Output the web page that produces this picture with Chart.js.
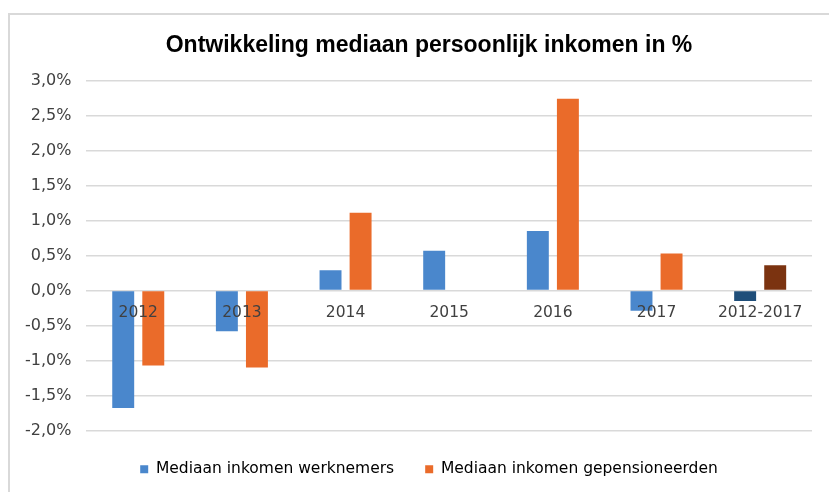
<!DOCTYPE html>
<html>
<head>
<meta charset="utf-8">
<script src="https://cdn.jsdelivr.net/npm/chart.js@4.4.1/dist/chart.umd.min.js"></script>
<style>
  html, body { margin: 0; padding: 0; background: #fff; overflow: hidden; }
  #frame {
    position: absolute; left: 8px; top: 13px;
    width: 840px; height: 500px;
    border-left: 2px solid #d9d9d9; border-top: 2px solid #d9d9d9;
  }
  #wrap { position: absolute; left: 0; top: 0; width: 838px; height: 472px; }
</style>
</head>
<body>
<div id="frame"><div id="wrap"><canvas id="BarChart"></canvas></div></div>
<script>
const categories = ['2012', '2013', '2014', '2015', '2016', '2017', '2012-2017'];
const werknemers = [-1.68, -0.58, 0.29, 0.57, 0.85, -0.29, -0.15];
const gepensioneerden = [-1.07, -1.10, 1.11, 0, 2.74, 0.53, 0.36];
const yTicks = [3.0, 2.5, 2.0, 1.5, 1.0, 0.5, 0.0, -0.5, -1.0, -1.5, -2.0];

// laatste kolom (2012-2017) heeft donkerdere kleuren
const blauw = categories.map((c, i) => i === categories.length - 1 ? '#1f4e79' : '#4a87cc');
const oranje = categories.map((c, i) => i === categories.length - 1 ? '#7b3310' : '#ea6b2a');

const data = {
  labels: categories,
  datasets: [{
    label: 'Mediaan inkomen werknemers',
    data: werknemers,
    backgroundColor: blauw,
    categoryPercentage: 0.58,
    barPercentage: 0.73
  }, {
    label: 'Mediaan inkomen gepensioneerden',
    data: gepensioneerden,
    backgroundColor: oranje,
    categoryPercentage: 0.58,
    barPercentage: 0.73
  }]
};

const config = {
  type: 'bar',
  data: data,
  options: {
    responsive: true,
    maintainAspectRatio: false,
    animation: false,
    layout: { padding: { left: 0, right: 0, top: 0, bottom: 0 } },
    plugins: {
      title: {
        display: true,
        text: 'Ontwikkeling mediaan persoonlijk inkomen in %',
        font: { family: 'Liberation Sans', size: 23, weight: 'bold' },
        color: '#000',
        padding: { top: 17, bottom: 21 }
      },
      legend: {
        position: 'bottom',
        labels: {
          font: { family: 'DejaVu Sans', size: 15.5 },
          color: '#404040',
          boxWidth: 8,
          boxHeight: 8,
          padding: 31,
          generateLabels: function(chart) {
            return chart.data.datasets.map((ds, i) => ({
              text: ds.label,
              fillStyle: i === 0 ? '#4a87cc' : '#ea6b2a',
              strokeStyle: 'transparent',
              lineWidth: 0,
              datasetIndex: i
            }));
          }
        }
      },
      tooltip: { enabled: false }
    },
    scales: {
      x: {
        position: { y: 0 },
        grid: { display: false },
        border: { display: false },
        ticks: {
          z: 1,
          font: { family: 'DejaVu Sans', size: 15.5 },
          color: '#404040',
          padding: 5,
          maxRotation: 0
        }
      },
      y: {
        min: -2,
        max: 3,
        afterBuildTicks: function(axis) {
          axis.ticks = yTicks.map(v => ({ value: v }));
        },
        grid: { color: '#d9d9d9', lineWidth: 1.5, drawTicks: false },
        border: { display: false },
        ticks: {
          font: { family: 'DejaVu Sans', size: 16 },
          color: '#404040',
          padding: 15,
          callback: function(value) {
            return value.toFixed(1).replace('.', ',') + '%';
          }
        }
      },
      // lege ruimte rechts, zodat titel en legenda goed gecentreerd staan
      rechts: {
        type: 'linear',
        position: 'right',
        grid: { display: false },
        border: { display: false },
        ticks: { display: false },
        afterFit: function(axis) { axis.width = 36; }
      }
    }
  }
};

new Chart(document.getElementById('BarChart'), config);
</script>
</body>
</html>
